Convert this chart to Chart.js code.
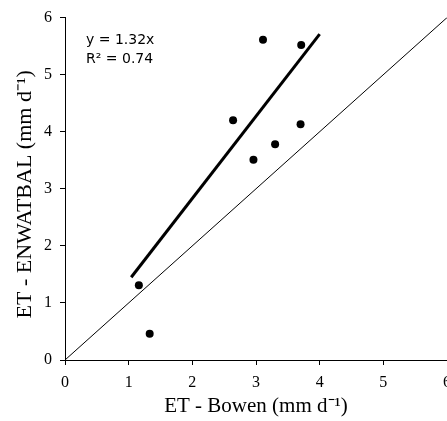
<!DOCTYPE html>
<html>
<head>
<meta charset="utf-8">
<script src="https://cdn.jsdelivr.net/npm/chart.js@4/dist/chart.umd.min.js"></script>
<style>
  html, body { margin: 0; padding: 0; background: #fff; overflow: hidden; }
  #wrap { width: 460px; height: 421px; position: relative; }
</style>
</head>
<body>
<div id="wrap"><canvas id="c"></canvas></div>
<script>
// ET from the Bowen ratio method (x) vs ET from ENWATBAL (y), mm per day
const bowenET = [1.16, 1.33, 2.64, 2.96, 3.11, 3.30, 3.70, 3.71];
const enwatbalET = [1.31, 0.46, 4.20, 3.51, 5.61, 3.78, 4.13, 5.52];

// Fitted regression segment and the 1:1 reference line
const fitX = [1.04, 4.00];
const fitY = [1.45, 5.71];
const oneToOneX = [0, 6];
const oneToOneY = [0, 6];

const axisTicks = [0, 1, 2, 3, 4, 5, 6];
const fitLabel = ['y = 1.32x', 'R\u00B2 = 0.74'];
const xTitle = 'ET - Bowen (mm d\u207B\u00B9)';
// trailing en space nudges the rotated title slightly down the axis
const yTitle = 'ET - ENWATBAL (mm d\u207B\u00B9)\u2002';

const toPoints = (xs, ys) => xs.map((x, i) => ({ x, y: ys[i] }));

const serif = '"Liberation Serif", "Times New Roman", serif';

// Regression equation written inside the plot area, anchored in data units
const equationPlugin = {
  id: 'equation',
  afterDatasetsDraw(chart) {
    const { ctx, scales: { x, y } } = chart;
    ctx.save();
    ctx.fillStyle = '#000';
    ctx.font = '14px "DejaVu Sans", Verdana, sans-serif';
    ctx.textAlign = 'left';
    ctx.textBaseline = 'middle';
    const left = x.getPixelForValue(0.33);
    const top = y.getPixelForValue(5.6);
    ctx.fillText(fitLabel[0], left, top);
    ctx.fillText(fitLabel[1], left, top + 19);
    ctx.restore();
  }
};

const tickStyle = {
  min: 0, max: 6,
  afterBuildTicks(scale) { scale.ticks = axisTicks.map(v => ({ value: v })); },
  border: { display: true, color: '#000', width: 1 },
  grid: { drawOnChartArea: false, drawTicks: true, tickLength: 5, color: '#000' }
};

new Chart(document.getElementById('c'), {
  type: 'scatter',
  data: {
    datasets: [
      {
        label: '1:1',
        data: toPoints(oneToOneX, oneToOneY),
        showLine: true,
        borderColor: '#000',
        borderWidth: 1,
        pointRadius: 0
      },
      {
        label: 'fit',
        data: toPoints(fitX, fitY),
        showLine: true,
        borderColor: '#000',
        borderWidth: 3,
        pointRadius: 0
      },
      {
        label: 'ET',
        data: toPoints(bowenET, enwatbalET),
        backgroundColor: '#000',
        borderColor: '#000',
        pointRadius: 4,
        pointBorderWidth: 0
      }
    ]
  },
  options: {
    responsive: true,
    maintainAspectRatio: false,
    animation: false,
    layout: { padding: { top: 17, right: 13, left: 0, bottom: 0 } },
    plugins: { legend: { display: false }, tooltip: { enabled: false } },
    scales: {
      x: {
        ...tickStyle,
        type: 'linear',
        afterFit(s) { s.height = 61; },
        ticks: { color: '#000', font: { family: serif, size: 16 }, padding: 8, maxRotation: 0 },
        title: { display: true, text: xTitle, color: '#000', font: { family: serif, size: 21 }, padding: { top: 0, bottom: 2 } }
      },
      y: {
        ...tickStyle,
        type: 'linear',
        afterFit(s) { s.width = 65; },
        ticks: { color: '#000', font: { family: serif, size: 16 }, padding: 8 },
        title: { display: true, text: yTitle, color: '#000', font: { family: serif, size: 22 }, padding: { top: 12, bottom: 0 } }
      }
    }
  },
  plugins: [equationPlugin]
});
</script>
</body>
</html>
